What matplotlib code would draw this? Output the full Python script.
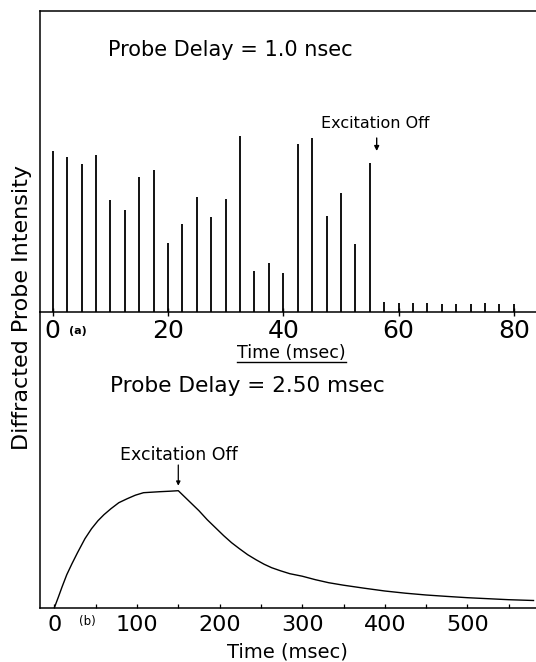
import matplotlib
matplotlib.use("Agg")
import matplotlib.pyplot as plt
from matplotlib.lines import Line2D

# ---------------- data ----------------
# (a) pulsed signal, probe delay 1.0 ns
pulse_times = [0, 2.5, 5, 7.5, 10, 12.5, 15, 17.5, 20, 22.5, 25, 27.5, 30, 32.5,
               35, 37.5, 40, 42.5, 45, 47.5, 50, 52.5, 55, 57.5, 60, 62.5, 65,
               67.5, 70, 72.5, 75, 77.5, 80]
pulse_heights = [161, 155, 148, 157, 112, 102, 135, 142, 69, 88, 115, 95, 113, 176,
                 41, 49, 39, 168, 174, 96, 119, 68, 149, 10, 9, 9, 9,
                 8, 8, 8, 9, 8, 8]
top_ticks = [0, 20, 40, 60, 80]
top_ticklabels = ["0", "20", "40", "60", "80"]
top_excitation_off = 56.2

# (b) continuous signal, probe delay 2.50 ms
curve_t = [0, 5, 9.4, 15, 21.3, 28, 37, 45, 52.8, 60, 68.5, 78, 88.2, 98, 107.9,
           127.6, 140, 150, 160, 175, 185, 195, 205, 214.5, 224, 234, 244, 253.8,
           263, 273.4, 285, 300, 316, 332, 350, 375, 400, 425, 450, 475, 500,
           525, 550, 580]
curve_h = [0, 11, 21, 33, 44, 55, 69, 79, 87, 93, 99, 105, 109, 112.5, 115,
           116, 116.5, 117, 109, 97, 88, 80, 72, 65, 59, 53, 48, 43.5,
           40, 37, 34, 31.5, 28, 25, 22.5, 19.5, 16.7, 14.5, 12.7, 11.3, 10,
           9, 8, 7.2]
bot_ticks = [0, 100, 200, 300, 400, 500]
bot_ticklabels = ["0", "100", "200", "300", "400", "500"]
bot_minor = [50, 150, 250, 350, 450, 550]
bot_excitation_off = 150

# ---------------- layout helpers ----------------
W, H = 536, 662
def fx(x):
    return x / W
def fy(y):
    return 1 - y / H

plt.rcParams['font.family'] = ['DejaVu Sans']
fig = plt.figure(figsize=(W / 100, H / 100), dpi=100)

# ---------------- top panel ----------------
ax1 = fig.add_axes([fx(39.5), fy(312), fx(536) - fx(39.5), fy(10.5) - fy(312)])
ax1.set_xlim(-13.2 / 5.765, (536 - 52.7) / 5.765)
ax1.set_ylim(0, 301.5)
ax1.vlines(pulse_times, 0, pulse_heights, color='black', lw=1.3)
ax1.spines['right'].set_visible(False)
for s in ['left', 'bottom', 'top']:
    ax1.spines[s].set_linewidth(1.1)
ax1.set_yticks([])
ax1.set_xticks(top_ticks)
ax1.set_xticklabels(top_ticklabels)
ax1.tick_params(axis='x', direction='inout', length=6, width=1, labelsize=18, pad=2)
ax1.text(9.6, 256, "Probe Delay = 1.0 nsec", fontsize=15, ha='left', va='baseline')
ax1.text(55.9, 184, "Excitation Off", fontsize=11.5, ha='center', va='baseline')
ax1.annotate('', xy=(top_excitation_off, 161), xytext=(top_excitation_off, 174),
             arrowprops=dict(arrowstyle='-|>', lw=1, color='black', mutation_scale=7,
                             shrinkA=0, shrinkB=0))

# ---------------- bottom panel ----------------
ax2 = fig.add_axes([fx(39.5), fy(607.7), fx(536) - fx(39.5), fy(312) - fy(607.7)])
ax2.patch.set_visible(False)
ax2.set_xlim(-18, 583)
ax2.set_ylim(0, 295.7)
ax2.plot(curve_t, curve_h, color='black', lw=1.0)
ax2.spines['right'].set_visible(False)
ax2.spines['top'].set_visible(False)
for s in ['left', 'bottom']:
    ax2.spines[s].set_linewidth(1.1)
ax2.set_yticks([])
ax2.set_xticks(bot_ticks)
ax2.set_xticklabels(bot_ticklabels)
ax2.set_xticks(bot_minor, minor=True)
ax2.tick_params(axis='x', which='both', direction='in', length=3, width=0.9,
                labelsize=16, pad=5)
ax2.text(67.3, 216, "Probe Delay = 2.50 msec", fontsize=15.6, ha='left', va='baseline')
ax2.text(150.8, 147.7, "Excitation Off", fontsize=12.5, ha='center', va='baseline')
ax2.annotate('', xy=(bot_excitation_off, 122), xytext=(bot_excitation_off, 142.7),
             arrowprops=dict(arrowstyle='-|>', lw=0.9, color='black', mutation_scale=6,
                             shrinkA=0, shrinkB=0))

# ---------------- labels ----------------
fig.text(fx(22), fy(308), "Diffracted Probe Intensity", rotation=90,
         ha='center', va='center', fontsize=16)
fig.text(fx(78), fy(331), "(a)", fontsize=8, fontweight='bold', ha='center', va='center')
fig.text(fx(87), fy(622), "(b)", fontsize=8.5, ha='center', va='center')
fig.text(fx(291.5), fy(353), "Time (msec)", fontsize=12.5, ha='center', va='center')
fig.add_artist(Line2D([fx(237), fx(346)], [fy(362), fy(362)], color='black', lw=1.0,
                      transform=fig.transFigure))
fig.text(fx(287), fy(652), "Time (msec)", fontsize=14, ha='center', va='center')

fig.savefig("out.png", dpi=100)
